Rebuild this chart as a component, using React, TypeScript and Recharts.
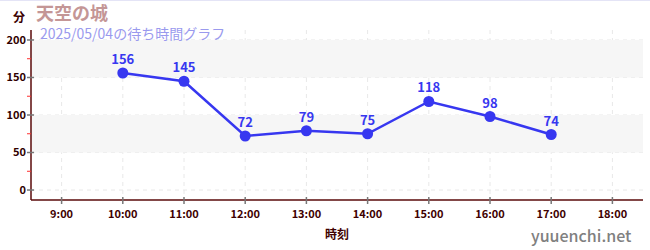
import React from 'react';
import {
  LineChart,
  Line,
  XAxis,
  YAxis,
  CartesianGrid,
  ReferenceArea,
  LabelList,
} from 'recharts';

// Hourly wait times (minutes)
const hours = [10, 11, 12, 13, 14, 15, 16, 17];
const waitMinutes = [156, 145, 72, 79, 75, 118, 98, 74];

const hourTicks = [9, 10, 11, 12, 13, 14, 15, 16, 17, 18];
const minuteTicks = [0, 25, 50, 75, 100, 125, 150, 175, 200];
const majorMinutes = [0, 50, 100, 150, 200];

const FONT = '"Noto Sans CJK JP", "Noto Sans", sans-serif';
const AXIS_RED = '#5a0a0a';
const LINE_BLUE = '#3737f0';

const data = hours.map((h, i) => ({ hour: h, wait: waitMinutes[i] }));

const TICK_SIZE = 4;
const TICK_MARGIN = 3;

const YTick = (props: any) => {
  const { x, y, payload } = props;
  const axisX = x + TICK_SIZE + TICK_MARGIN;
  const v = payload.value as number;
  if (v % 50 !== 0) {
    return <line x1={axisX - 4} x2={axisX} y1={y} y2={y} stroke="#ff3030" strokeWidth={1} />;
  }
  return (
    <g>
      <line x1={axisX - 4} x2={axisX + 3} y1={y} y2={y} stroke="#777" strokeWidth={1.5} />
      <text
        x={axisX - 5}
        y={y}
        dy="0.35em"
        textAnchor="end"
        fontSize={11}
        fontWeight={700}
        fill="#300000"
        fontFamily={FONT}
      >
        {v}
      </text>
    </g>
  );
};

const XTick = (props: any) => {
  const { x, y, payload } = props;
  const axisY = y - TICK_SIZE - TICK_MARGIN;
  return (
    <g>
      <line x1={x} x2={x} y1={axisY - 3} y2={axisY + 4} stroke="#777" strokeWidth={1.5} />
      <text
        x={x}
        y={axisY + 14}
        dy="0.35em"
        textAnchor="middle"
        fontSize={11}
        fontWeight={700}
        fill="#400000"
        fontFamily={FONT}
      >
        {`${payload.value}:00`}
      </text>
    </g>
  );
};

const App: React.FC = () => {
  return (
    <div
      style={{
        position: 'absolute',
        left: 0,
        top: 0,
        width: 650,
        height: 250,
        background: '#fff',
        fontFamily: FONT,
        borderTop: '1px solid #e4e4f6',
        boxSizing: 'border-box',
      }}
    >
      <div style={{ position: 'absolute', left: 13, top: 7, fontSize: 12, fontWeight: 700, color: '#3a0000' }}>
        分
      </div>
      <div
        style={{
          position: 'absolute',
          left: 36,
          top: 2,
          fontSize: 18,
          fontWeight: 700,
          color: '#c49696',
          lineHeight: '18px',
        }}
      >
        天空の城
      </div>
      <div
        style={{
          position: 'absolute',
          left: 40,
          top: 24,
          fontSize: 14,
          color: '#9a9aee',
          lineHeight: '16px',
          zIndex: 2,
        }}
      >
        2025/05/04の待ち時間グラフ
      </div>
      <div
        style={{
          position: 'absolute',
          left: 531,
          top: 222,
          fontSize: 16,
          fontWeight: 500,
          color: '#808080',
          lineHeight: '24px',
        }}
      >
        yuuenchi.net
      </div>

      <LineChart
        width={650}
        height={250}
        data={data}
        margin={{ top: 30, right: 7, bottom: 0, left: 0 }}
        style={{ position: 'absolute', left: 0, top: -1 }}
      >
        <ReferenceArea y1={150} y2={200} fill="#f6f6f6" fillOpacity={1} stroke="none" ifOverflow="visible" />
        <ReferenceArea y1={50} y2={100} fill="#f6f6f6" fillOpacity={1} stroke="none" ifOverflow="visible" />
        <CartesianGrid
          stroke="#e8e8e8"
          strokeDasharray="4 4"
          horizontalValues={majorMinutes}
          verticalValues={hourTicks}
        />
        <XAxis
          type="number"
          dataKey="hour"
          domain={[8.5, 18.5]}
          ticks={hourTicks}
          interval={0}
          height={50}
          tickLine={false}
          tickSize={TICK_SIZE}
          tickMargin={TICK_MARGIN}
          axisLine={{ stroke: AXIS_RED, strokeWidth: 1.5 }}
          tick={<XTick />}
          label={{
            value: '時刻',
            position: 'insideBottom',
            offset: 11,
            fontSize: 12,
            fontWeight: 700,
            fill: '#400000',
            fontFamily: FONT,
          }}
        />
        <YAxis
          type="number"
          domain={[-13.3, 213.3]}
          ticks={minuteTicks}
          interval={0}
          width={31}
          tickLine={false}
          tickSize={TICK_SIZE}
          tickMargin={TICK_MARGIN}
          axisLine={{ stroke: AXIS_RED, strokeWidth: 1.5 }}
          tick={<YTick />}
          allowDataOverflow
        />
        <Line
          type="linear"
          dataKey="wait"
          stroke={LINE_BLUE}
          strokeWidth={2.5}
          dot={{ r: 5.5, fill: LINE_BLUE, stroke: LINE_BLUE, strokeWidth: 0 }}
          activeDot={false}
          isAnimationActive={false}
        >
          <LabelList
            dataKey="wait"
            position="top"
            offset={9}
            fontSize={13}
            fontWeight={700}
            fill={LINE_BLUE}
            fontFamily={FONT}
          />
        </Line>
      </LineChart>
    </div>
  );
};

export default App;
